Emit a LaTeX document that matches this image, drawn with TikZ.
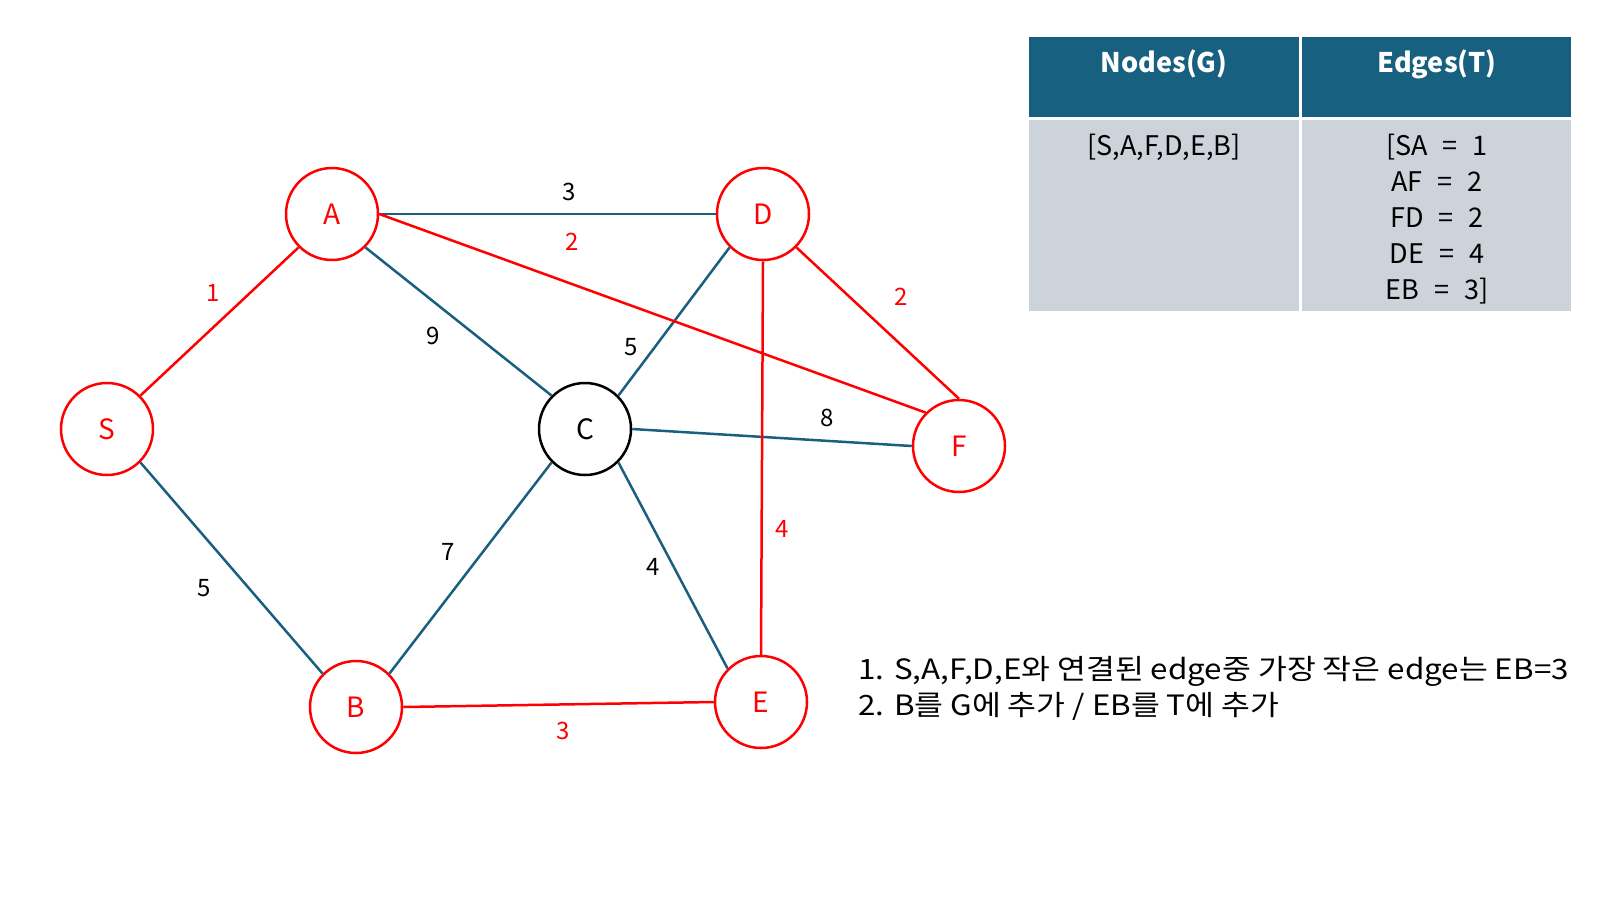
\documentclass[tikz,border=0pt]{standalone}
\usepackage{fontspec}
\setmainfont{Noto Sans CJK KR}
\newfontfamily\notefont[FakeStretch=1.12]{Noto Sans CJK KR}
\definecolor{tealE}{HTML}{1B5F80}
\definecolor{hdrF}{HTML}{17607F}
\definecolor{bodyF}{HTML}{CDD3DA}
\newcommand{\eqgap}{\hspace{15pt}=\hspace{15pt}}
\begin{document}
\begin{tikzpicture}[x=1pt, y=-1pt,
  vtx/.style={circle, draw=red, text=red, line width=2.5pt, minimum size=92pt, inner sep=0pt, font=\fontsize{28}{32}\selectfont},
  used/.style={draw=red, line width=2.5pt},
  open/.style={draw=tealE, line width=2.5pt},
  wt/.style={font=\fontsize{24}{28}\selectfont},
  txt/.style={font=\fontsize{27}{36}\selectfont, align=center, anchor=north}]
\useasboundingbox (0,0) rectangle (1600,900);
% Knoten
\node[vtx] (A) at (332,214) {A};
\node[vtx] (D) at (763,214) {D};
\node[vtx] (S) at (107,429) {S};
\node[vtx, draw=black, text=black] (C) at (585,429) {C};
\node[vtx] (F) at (959,446) {F};
\node[vtx] (B) at (356,707) {B};
\node[vtx] (E) at (761,702) {E};
% Kanten (nicht gewaehlt)
\draw[open] (A.east) -- (D.west);
\draw[open] (A.south east) -- (C.north west);
\draw[open] (C.north east) -- (D.south west);
\draw[open] (C.east) -- (F.west);
\draw[open] (S.south east) -- (B.north west);
\draw[open] (B.north east) -- (C.south west);
\draw[open] (C.south east) -- (E.north west);
% Kanten im Baum
\draw[used] (S.north east) -- (A.south west);
\draw[used] (A.east) -- (F.north west);
\draw[used] (D.south east) -- (F.north);
\draw[used] (D.south) -- (E.north);
\draw[used] (B.east) -- (E.west);
% Gewichte
\node[wt] (w1) at (569,192) {3};
\node[wt, text=red] (w2) at (572,242) {2};
\node[wt, text=red] (w3) at (213,293) {1};
\node[wt] (w4) at (433,336) {9};
\node[wt] (w5) at (631,347) {5};
\node[wt, text=red] (w6) at (901,297) {2};
\node[wt] (w7) at (827,418) {8};
\node[wt, text=red] (w8) at (782,529) {4};
\node[wt] (w9) at (448,552) {7};
\node[wt] (w10) at (653,567) {4};
\node[wt] (w11) at (204,588) {5};
\node[wt, text=red] (w12) at (563,731) {3};
% Tabelle
\fill[hdrF] (1029,37) rectangle (1299,117);
\fill[hdrF] (1302,37) rectangle (1571,117);
\fill[bodyF] (1029,120) rectangle (1299,311);
\fill[bodyF] (1302,120) rectangle (1571,311);
\node[txt, text=white, font=\bfseries\fontsize{27}{36}\selectfont] (hG) at (1164,46) {Nodes(G)};
\node[txt, text=white, font=\bfseries\fontsize{27}{36}\selectfont] (hT) at (1437,46) {Edges(T)};
\node[txt] (lG) at (1164,131) {[S,A,F,D,E,B]};
\node[txt] (lT) at (1437,131) {[SA\eqgap1\\AF\eqgap2\\FD\eqgap2\\DE\eqgap4\\EB\eqgap3]};
% Erklaerung
\node[txt, align=left, anchor=north west, font=\notefont\fontsize{28}{36}\selectfont] (note) at (855,653)
  {1. S,A,F,D,E와 연결된 edge중 가장 작은 edge는 EB=3\\2. B를 G에 추가 / EB를 T에 추가};
\end{tikzpicture}
\end{document}
